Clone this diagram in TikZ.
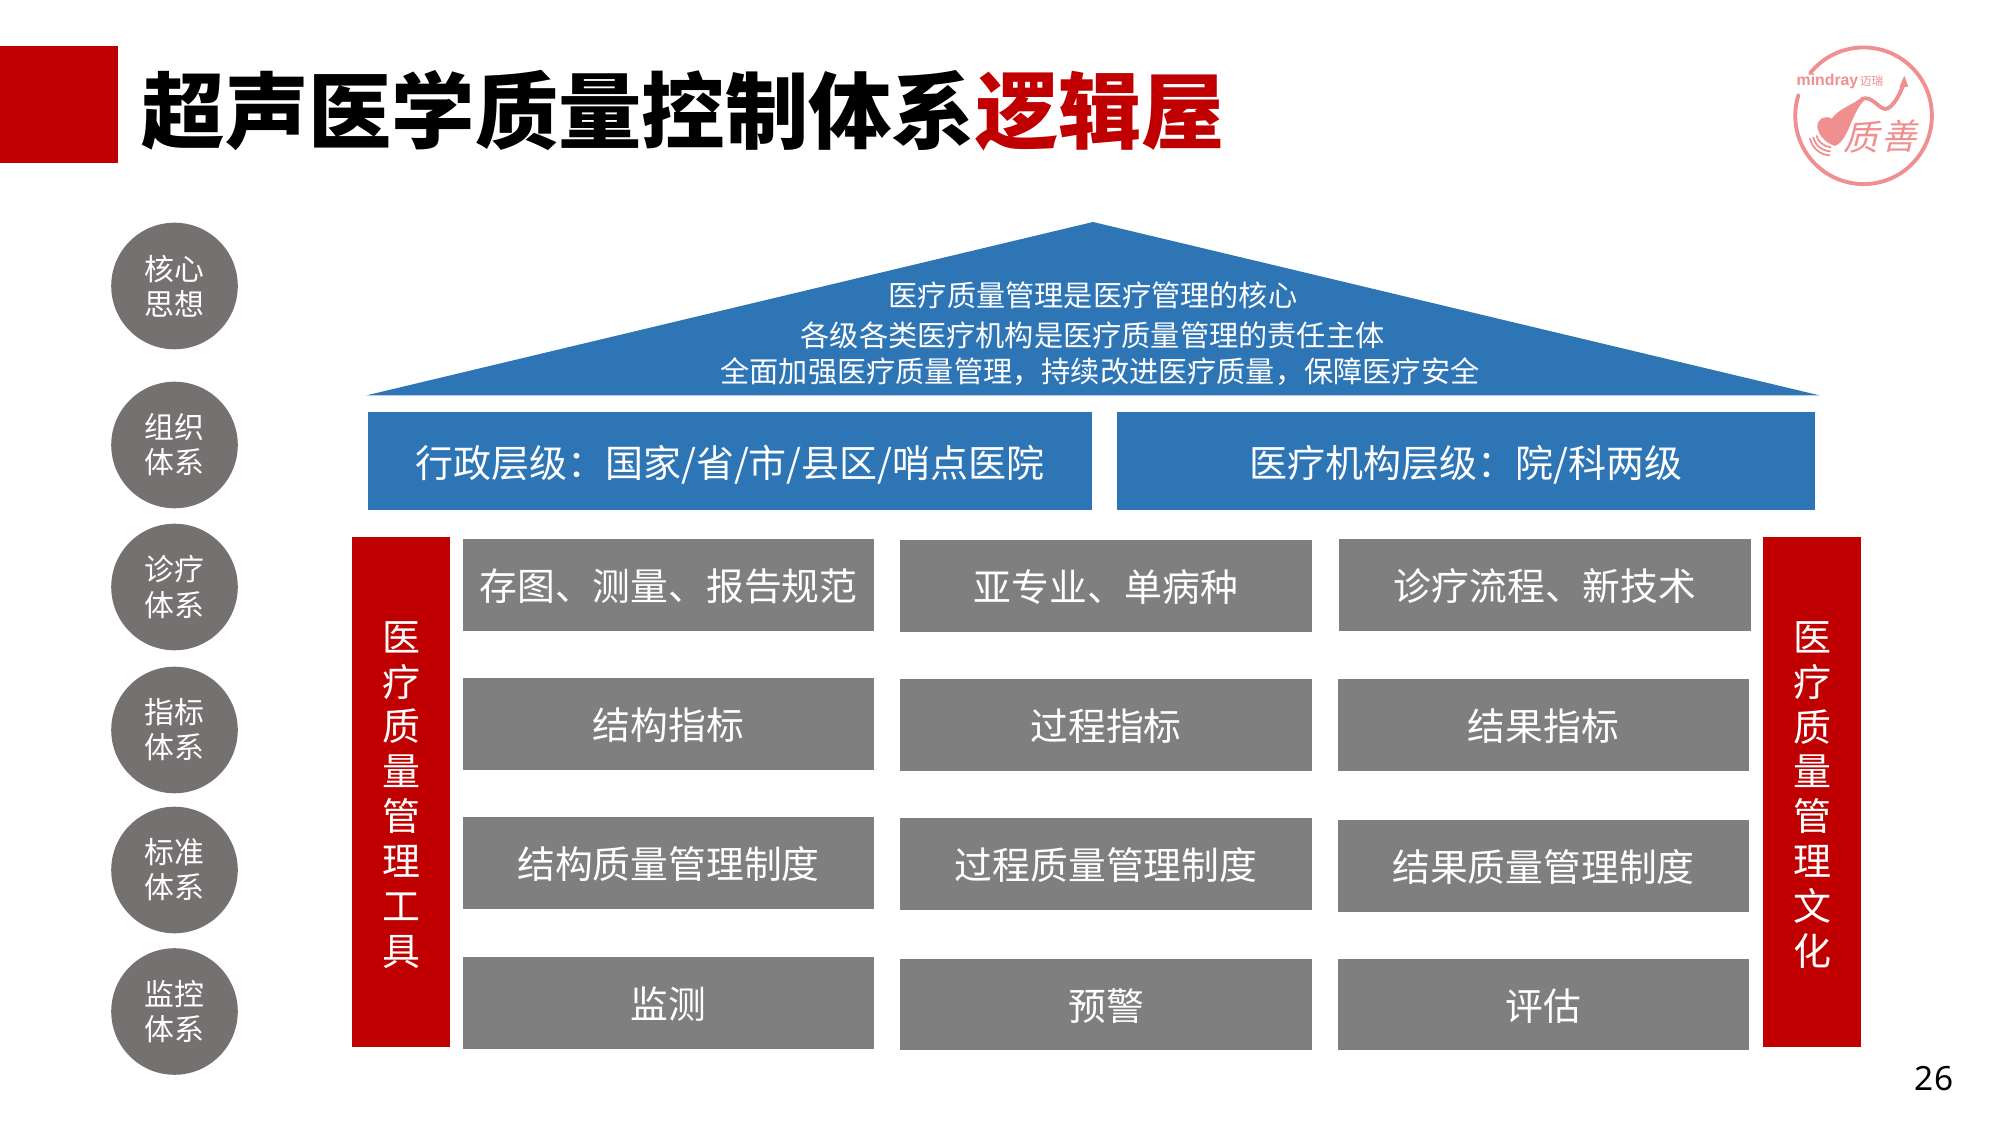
\documentclass[tikz,border=0pt]{standalone}
\usepackage{fontspec}
\setmainfont{Noto Sans CJK SC}
\newfontfamily\logofont{Liberation Sans}
\newfontfamily\pagefont{Noto Sans}
\definecolor{myred}{HTML}{C00000}
\definecolor{myblue}{HTML}{2E75B6}
\definecolor{mygray}{HTML}{7F7F7F}
\definecolor{mycirc}{HTML}{767171}
\definecolor{mylogo}{HTML}{F08F8F}
\newcommand{\fullcomma}{\char"FF0C\relax}
\newcommand{\fullcolon}{\char"FF1A\relax}
\begin{document}
\begin{tikzpicture}[x=0.01cm,y=-0.01cm,
	every node/.style={inner sep=0pt,text=white},
	titlenode/.style={text=black,anchor=west,font=\fontsize{23.7pt}{28pt}\selectfont\bfseries},
	sysnode/.style={circle,fill=mycirc,minimum size=1.265cm,align=center,font=\fontsize{8.5pt}{10pt}\selectfont},
	rooftext/.style={font=\fontsize{8.3pt}{10pt}\selectfont},
	levelnode/.style={fill=myblue,minimum height=0.985cm,text height=9.2pt,text depth=0pt,font=\fontsize{10.8pt}{13pt}\selectfont},
	sidenode/.style={fill=myred,minimum width=0.98cm,minimum height=5.10cm,align=center,font=\fontsize{10.8pt}{12.78pt}\selectfont},
	itemnode/.style={fill=mygray,minimum width=4.11cm,minimum height=0.91cm,text height=8.9pt,text depth=0pt,font=\fontsize{10.75pt}{13pt}\selectfont},
	logoline/.style={draw=mylogo,line width=1.1pt,line cap=round}]

	\useasboundingbox (0,0) rectangle (2000,1125);

	\fill[myred] (0,46) rectangle (117.5,163.5);
	\node[titlenode] (title) at (141,111) {超声医学质量控制体系\textcolor{myred}{逻辑屋}};

	\node[sysnode] (core) at (174.5,286) {核心\\思想};
	\node[sysnode] (org) at (174.5,445) {组织\\体系};
	\node[sysnode] (clinic) at (174.5,587) {诊疗\\体系};
	\node[sysnode] (index) at (174.5,730) {指标\\体系};
	\node[sysnode] (norm) at (174.5,870) {标准\\体系};
	\node[sysnode] (watch) at (174.5,1011.5) {监控\\体系};

	\fill[myblue] (366,395.5) -- (1093,222) -- (1820,395.5) -- cycle;
	\node[rooftext] (roof1) at (1093,295) {医疗质量管理是医疗管理的核心};
	\node[rooftext] (roof2) at (1092.5,335.5) {各级各类医疗机构是医疗质量管理的责任主体};
	\node[rooftext] (roof3) at (1100,372) {全面加强医疗质量管理\fullcomma 持续改进医疗质量\fullcomma 保障医疗安全};

	\node[levelnode,minimum width=7.23cm] (admin) at (730,461) {行政层级\fullcolon 国家/省/市/县区/哨点医院};
	\node[levelnode,minimum width=6.98cm] (hosp) at (1466,461) {医疗机构层级\fullcolon 院/科两级};

	\node[sidenode] (tool) at (401,792) {\rule{0pt}{10.2pt}医\\疗\\质\\量\\管\\理\\工\\具};
	\node[sidenode] (culture) at (1812,792) {\rule{0pt}{10.2pt}医\\疗\\质\\量\\管\\理\\文\\化};

	\node[itemnode] (a1) at (668.5,585) {存图、测量、报告规范};
	\node[itemnode] (a2) at (1106,586) {亚专业、单病种};
	\node[itemnode] (a3) at (1545,585) {诊疗流程、新技术};
	\node[itemnode] (b1) at (668.5,724) {结构指标};
	\node[itemnode] (b2) at (1106,725) {过程指标};
	\node[itemnode] (b3) at (1543.5,725) {结果指标};
	\node[itemnode] (c1) at (668.5,863) {结构质量管理制度};
	\node[itemnode] (c2) at (1106,864) {过程质量管理制度};
	\node[itemnode] (c3) at (1543.5,866) {结果质量管理制度};
	\node[itemnode] (d1) at (668.5,1003) {监测};
	\node[itemnode] (d2) at (1106,1004.5) {预警};
	\node[itemnode] (d3) at (1543.5,1004.5) {评估};

	\node[text=black,font=\fontsize{9.5pt}{11pt}\pagefont] (page) at (1934,1079) {26};

	% logo, in the pixels of a 3x crop
	\begin{scope}[shift={(1760,30)},x=0.01cm/3,y=-0.01cm/3]
		\draw[logoline] (150,130) arc[start angle=218.4,end angle=557.6,radius=205];
		\node[text=mylogo,anchor=west,font=\fontsize{4.5pt}{5pt}\logofont\bfseries] (brand) at (108,155) {mindray};
		\node[text=mylogo,anchor=west,font=\fontsize{3.3pt}{4pt}\selectfont] (brandcn) at (298,153) {迈瑞};
		\fill[mylogo] (172,290) .. controls (172,265) and (195,255) .. (215,266)
			.. controls (235,240) and (265,228) .. (285,216)
			.. controls (295,210) and (300,204) .. (310,202)
			-- (312,212) .. controls (298,225) and (285,250) .. (272,282)
			.. controls (260,310) and (248,338) .. (225,348)
			.. controls (205,342) and (175,322) .. (172,290) -- cycle;
		\draw[logoline] (305,207) .. controls (335,195) and (355,235) .. (375,237)
			.. controls (400,235) and (420,190) .. (430,165);
		\fill[mylogo] (433,137) -- (418,172) -- (445,170) -- cycle;
		\draw[logoline,line width=0.5pt] (170,318) .. controls (172,332) and (190,350) .. (212,352);
		\draw[logoline,line width=0.5pt] (160,322) .. controls (165,345) and (185,362) .. (210,364);
		\draw[logoline,line width=0.5pt] (150,326) .. controls (155,352) and (180,375) .. (208,376);
		\node[text=mylogo,xslant=0.25,font=\fontsize{10pt}{12pt}\selectfont] (zhi) at (312,322) {质};
		\node[text=mylogo,xslant=0.25,font=\fontsize{10pt}{12pt}\selectfont] (shan) at (426,318) {善};
	\end{scope}

\end{tikzpicture}
\end{document}
